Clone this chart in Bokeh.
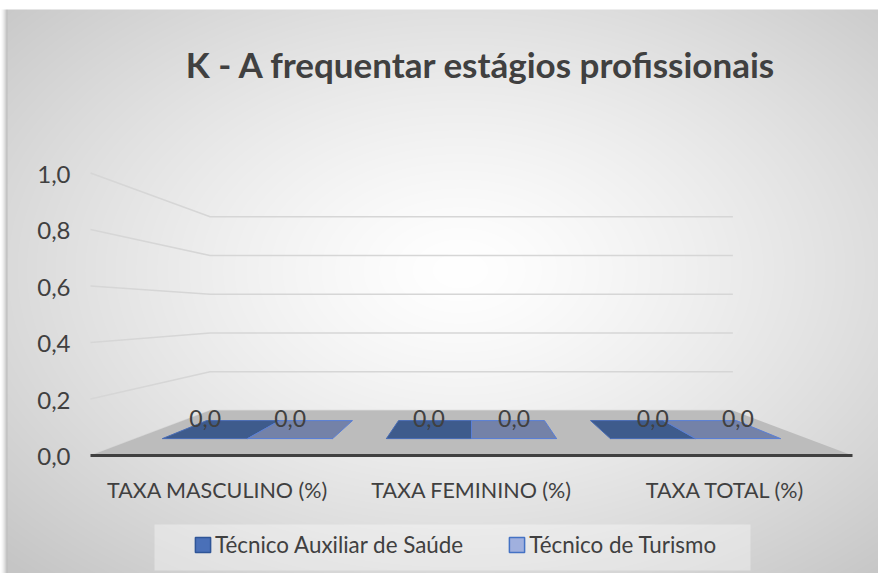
import numpy as np
from bokeh.plotting import figure
from bokeh.models import Range1d, Legend, LegendItem
from bokeh.core.properties import value
from bokeh.embed import file_html
from bokeh.resources import INLINE

# ---------------- data ----------------
title_text = "K - A frequentar estágios profissionais"
categories = ["TAXA MASCULINO (%)", "TAXA FEMININO (%)", "TAXA TOTAL (%)"]
series_names = ["Técnico Auxiliar de Saúde", "Técnico de Turismo"]
auxiliar_saude = [0.0, 0.0, 0.0]
turismo = [0.0, 0.0, 0.0]
y_ticks = [0.0, 0.2, 0.4, 0.6, 0.8, 1.0]
y_tick_labels = ["0,0", "0,2", "0,4", "0,6", "0,8", "1,0"]

# ---------------- layout / style ----------------
W, H = 878, 573
PX_U = 254.0          # px per category unit on front plane
PX_V = 282.5          # px per value unit on front plane
X0, Y0 = 90.0, 455.0  # front-left-bottom corner (figure px, from top-left)
x_start, x_end = -X0 / PX_U, (W - X0) / PX_U
y_start, y_end = -(H - Y0) / PX_V, Y0 / PX_V

VP_U, VP_V = 1.5, 0.506   # vanishing point (data units)
DEPTH_K = 0.314           # back plane shrink
T0, T1 = 0.378, 0.778     # bar depth span
GROUP_W = 0.76
FONT = "Lato"
TXT = "#404040"

def px2u(px):
    return (px - X0) / PX_U

def py2v(py):
    return (Y0 - py) / PX_V

def proj(u, v, t):
    s = 1.0 - DEPTH_K * t
    return VP_U + (u - VP_U) * s, VP_V + (v - VP_V) * s

n_cat = len(categories)
series_vals = [auxiliar_saude, turismo]
top_colors = ["#3e5b8c", "#7482a8"]
front_colors = ["#34507f", "#66739a"]
edge_colors = ["#4a6db5", "#5a7fd6"]
legend_fill = ["#4a70b8", "#a0b0de"]
legend_line = ["#2f5597", "#4472c4"]

p = figure(width=W, height=H, x_range=Range1d(x_start, x_end), y_range=Range1d(y_start, y_end),
           output_backend="svg", toolbar_location=None, min_border=0, title=None,
           x_axis_location=None, y_axis_location=None, outline_line_color=None)
p.grid.visible = False

# background: radial gradient chart area, white top strip, soft left shadow
gx = np.arange(W) + 0.5
gy = np.arange(H) + 0.5
GX, GY = np.meshgrid(gx, gy)
r = np.sqrt(((GX - 460) / 640.0) ** 2 + ((GY - 270) / 420.0) ** 2)
g = 255 - 58 * np.clip(r, 0, 1) ** 1.3
left = GX < 7
g = np.where(left, 255 - 75 * (GX / 7.0) ** 1.6, g)
g = np.where(GY < 9, 255, g)
g = g.astype(np.uint8)
img = np.zeros((H, W), dtype=np.uint32)
view = img.view(dtype=np.uint8).reshape((H, W, 4))
view[..., 0] = g
view[..., 1] = g
view[..., 2] = g
view[..., 3] = 255
img = img[::-1].copy()
p.image_rgba(image=[img], x=x_start, y=y_start, dw=x_end - x_start, dh=y_end - y_start)

# gridlines (side wall + back wall)
gxs, gys = [], []
for v in y_ticks:
    pts = [proj(0, v, 0), proj(0, v, 1), proj(n_cat, v, 1)]
    gxs.append([q[0] for q in pts])
    gys.append([q[1] for q in pts])
p.multi_line(gxs, gys, line_color="#d6d6d6", line_width=1.5)

# floor
fl = [proj(0, 0, 0), proj(n_cat, 0, 0), proj(n_cat, 0, 1), proj(0, 0, 1)]
p.patch([q[0] for q in fl], [q[1] for q in fl], fill_color="#bcbcbc", line_color=None)

# bars
n_ser = len(series_vals)
bar_w = GROUP_W / n_ser
lab_x, lab_y, lab_t = [], [], []
for j, vals in enumerate(series_vals):
    top_xs, top_ys, fr_xs, fr_ys = [], [], [], []
    for i, val in enumerate(vals):
        ul = i + 0.5 - GROUP_W / 2 + j * bar_w
        ur = ul + bar_w
        top = [proj(ul, val, T0), proj(ur, val, T0), proj(ur, val, T1), proj(ul, val, T1)]
        top_xs.append([q[0] for q in top]); top_ys.append([q[1] for q in top])
        fr = [proj(ul, 0, T0), proj(ur, 0, T0), proj(ur, val, T0), proj(ul, val, T0)]
        fr_xs.append([q[0] for q in fr]); fr_ys.append([q[1] for q in fr])
        c = proj((ul + ur) / 2, val, T0)
        lab_x.append(c[0]); lab_y.append(c[1])
        lab_t.append(f"{val:.1f}".replace(".", ","))
    p.patches(fr_xs, fr_ys, fill_color=front_colors[j], line_color=edge_colors[j], line_width=1)
    p.patches(top_xs, top_ys, fill_color=top_colors[j], line_color=edge_colors[j], line_width=1)

# category axis line
a0, a1 = proj(0, 0, 0), proj(n_cat, 0, 0)
p.line([a0[0], a1[0]], [a0[1], a1[1]], line_color="#404040", line_width=3)

# data labels
p.text(x=lab_x, y=lab_y, text=lab_t, text_font=value(FONT), text_font_size="23px",
       text_color=TXT, text_align="center", text_baseline="alphabetic", y_offset=-20)

# y tick labels
p.text(x=[0] * len(y_ticks), y=y_ticks, text=y_tick_labels, text_font=value(FONT),
       text_font_size="24px", text_color=TXT, text_align="right", text_baseline="middle",
       x_offset=-20, y_offset=1)

# category labels
p.text(x=[i + 0.5 for i in range(n_cat)], y=[0] * n_cat, text=categories, text_font=value(FONT),
       text_font_size="21.5px", text_color=TXT, text_align="center", text_baseline="middle",
       y_offset=34)

# title
p.text(x=[px2u(481)], y=[py2v(63)], text=[title_text], text_font=value(FONT),
       text_font_size="35px", text_font_style="bold", text_color=TXT,
       text_align="center", text_baseline="middle")

# legend box
p.quad(left=[px2u(154)], right=[px2u(750)], top=[py2v(524)], bottom=[py2v(570)],
       fill_color="white", fill_alpha=0.35, line_color=None)

# legend proxies (one off-screen row each so the legend swatch gets its colours)
items = []
for j, name in enumerate(series_names):
    rr = p.quad(left=[x_end + 1], right=[x_end + 2], top=[y_end + 2], bottom=[y_end + 1],
                fill_color=legend_fill[j], line_color=legend_line[j], line_width=1.5)
    items.append(LegendItem(label=name, renderers=[rr]))
legend = Legend(items=items, orientation="horizontal", location=(193, 15),
                glyph_width=19, glyph_height=19, label_standoff=3, spacing=44,
                padding=0, margin=0, border_line_color=None, background_fill_alpha=0,
                label_text_font=FONT, label_text_font_size="22.4px", label_text_color=TXT,
                label_height=20)
p.add_layout(legend)

open("out.html", "w").write(file_html(p, INLINE))
